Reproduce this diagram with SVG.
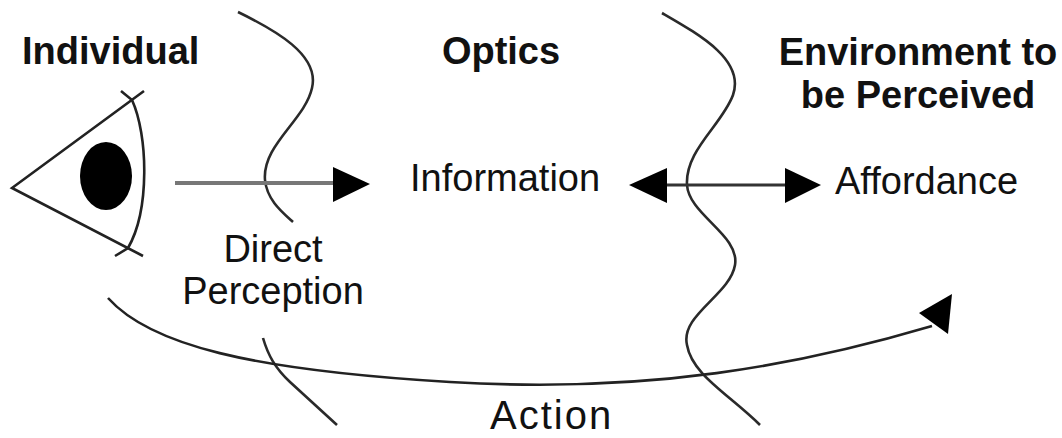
<svg xmlns="http://www.w3.org/2000/svg" width="1062" height="438" viewBox="0 0 1062 438">
<style>
.t{font-family:"Liberation Sans",Arial,sans-serif;font-size:38px;fill:#111}
.b{font-weight:bold}
.wave{fill:none;stroke:#2a2a2a;stroke-width:2.6}
.ln{fill:none;stroke:#222;stroke-width:2.6}
.head{fill:#000}
</style>
<rect width="1062" height="438" fill="#fff"/>
<g id="individual">
<text class="t b" x="22" y="64">Individual</text>
<path class="ln" d="M144,91 L12,188 L143,256"/>
<path class="ln" d="M121,91 L132,100 C148,135 150,210 128,248 L115,256" stroke-width="3"/>
<ellipse cx="106" cy="176" rx="26" ry="34" fill="#000"/>
</g>
<g id="optics">
<text class="t b" x="501" y="64" text-anchor="middle">Optics</text>
<text class="t" x="410" y="191">Information</text>
</g>
<g id="environment">
<text class="t b" x="918" y="65" text-anchor="middle">Environment to</text>
<text class="t b" x="918" y="108" text-anchor="middle">be Perceived</text>
<text class="t" x="835" y="194">Affordance</text>
</g>
<g id="direct-perception">
<text class="t" x="273" y="262" text-anchor="middle">Direct</text>
<text class="t" x="273" y="304" text-anchor="middle">Perception</text>
</g>
<g id="action">
<text class="t" x="490" y="429" style="font-size:40px;letter-spacing:2px">Action</text>
</g>
<g id="boundaries">
<path class="wave" d="M238,12 C275,30 320,55 312,88 C305,120 262,145 265,180 C267,200 282,212 293,222"/>
<path class="wave" d="M263,338 C268,355 275,368 290,382 L337,425"/>
<path class="wave" d="M662,13 C700,35 745,60 733,95 C722,125 685,150 687,185 C689,215 740,235 735,265 C730,295 680,315 687,345 C692,375 730,395 760,425"/>
</g>
<g id="connectors">
<line x1="175" y1="183" x2="336" y2="183" stroke="#777" stroke-width="4"/>
<polygon class="head" points="333,167 370,184 333,202"/>
<line x1="660" y1="185" x2="790" y2="185" stroke="#333" stroke-width="3"/>
<polygon class="head" points="629,185 667,168 667,203"/>
<polygon class="head" points="821,185 785,168 785,203"/>
<path class="ln" d="M108,298 C150,345 250,370 450,382 C650,394 800,365 932,326"/>
<polygon class="head" points="952,294 948,334 919,313"/>
</g>
</svg>
